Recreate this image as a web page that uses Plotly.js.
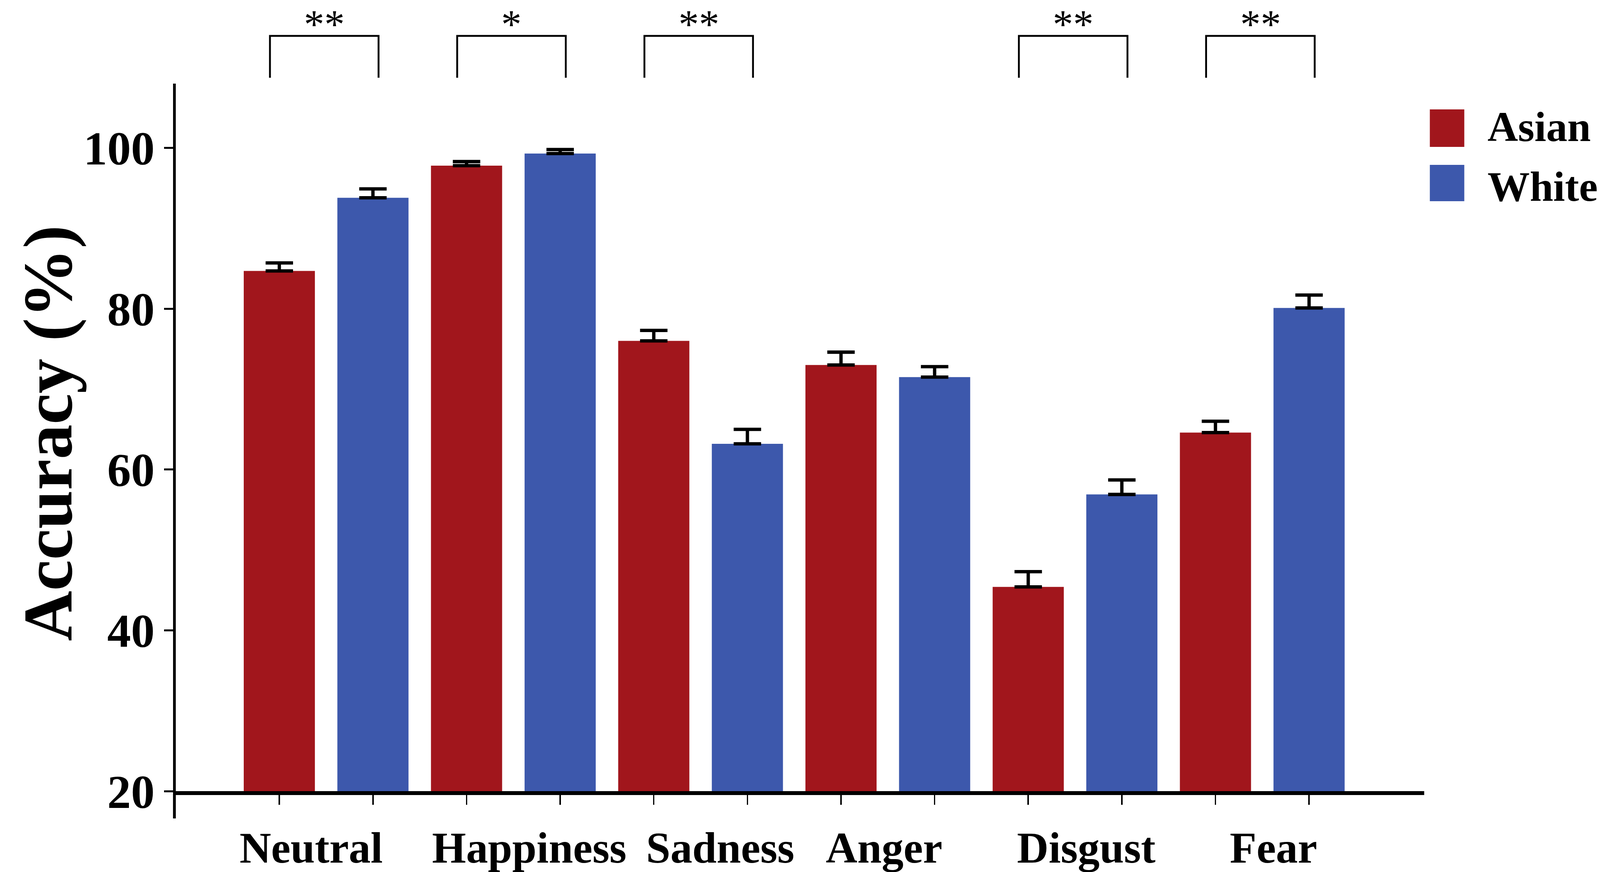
<!DOCTYPE html>
<html>
<head>
<meta charset="utf-8">
<script src="https://cdn.plot.ly/plotly-3.0.1.min.js"></script>
<style>
  html, body { margin: 0; padding: 0; background: #fff; overflow: hidden; }
</style>
</head>
<body>
<div id="chart"></div>
<script>
// data
var emotions = ["Neutral", "Happiness", "Sadness", "Anger", "Disgust", "Fear"];
var groups = ["Asian", "White"];
var asianAcc = [84.7, 97.8, 76.0, 73.0, 45.4, 64.6];
var asianErr = [1.0, 0.5, 1.3, 1.6, 1.9, 1.4];
var whiteAcc = [93.8, 99.3, 63.2, 71.5, 56.9, 80.1];
var whiteErr = [1.1, 0.5, 1.8, 1.3, 1.8, 1.6];
var significance = ["**", "*", "**", "", "**", "**"];
var yTicks = [20, 40, 60, 80, 100];

var colours = ["#A1161C", "#3D58AC"];
var serif = "Liberation Serif, Times New Roman, serif";
// the category names in the figure are not quite centred under their pairs
var labelNudge = [-0.08, 0.085, 0.105, -0.02, 0.06, 0.06];

// the design is laid out for 4550 x 2232; stretch it onto the real window
var Sx = window.innerWidth / 4550;
var Sy = window.innerHeight / 2232;
var Sf = Math.sqrt(Sx * Sy);
function px(v) { return v * Sx; }
function py(v) { return v * Sy; }
function pf(v) { return v * Sf; }

var idx = emotions.map(function (e, i) { return i; });
// tick marks sit under every bar centre
var barCentres = [];
for (var i = 0; i < idx.length; i++) {
	barCentres.push(idx[i] - 0.25, idx[i] + 0.25);
}
var labelPos = idx.map(function (v, i) { return v + labelNudge[i]; });
var xRange = [-0.803, 5.865];

function makeBar(name, vals, errs, colour) {
	return {
		type: "bar",
		name: name,
		x: idx,
		y: vals,
		xaxis: "x",
		yaxis: "y",
		marker: { color: colour, line: { width: 0 } },
		error_y: {
			type: "data",
			symmetric: false,
			array: errs,
			arrayminus: errs.map(function () { return 0; }),
			color: "#000",
			thickness: pf(9),
			width: px(39)
		},
		showlegend: false,
		hoverinfo: "y"
	};
}

var data = [
	makeBar(groups[0], asianAcc, asianErr, colours[0]),
	makeBar(groups[1], whiteAcc, whiteErr, colours[1])
];

var shapes = [];
var annotations = [];

// significance brackets and stars
for (var k = 0; k < significance.length; k++) {
	if (!significance[k]) continue;
	var x0 = idx[k] - 0.3, x1 = idx[k] + 0.28;
	shapes.push({
		type: "path",
		xref: "x", yref: "paper",
		path: "M " + x0 + ",1.0083 L " + x0 + ",1.0674 L " + x1 + ",1.0674 L " + x1 + ",1.0083",
		line: { color: "#000", width: pf(5) }
	});
	annotations.push({
		xref: "x", yref: "paper",
		x: (x0 + x1) / 2, y: 1.1165,
		xanchor: "center", yanchor: "top",
		text: significance[k],
		showarrow: false,
		borderpad: 0,
		font: { family: serif, size: pf(110), color: "#000" }
	});
}

// y axis title, placed by hand
annotations.push({
	xref: "paper", yref: "paper",
	x: -0.1025, y: 0.506,
	xanchor: "center", yanchor: "middle",
	textangle: -90,
	borderpad: 0,
	text: "Accuracy (%)",
	showarrow: false,
	font: { family: serif, size: pf(188), weight: "bold", color: "#000" }
});

// y axis carries on a little below the x axis
shapes.push({
	type: "line", xref: "paper", yref: "paper",
	x0: -0.0011, x1: -0.0011, y0: 0, y1: -0.0386,
	line: { color: "#000", width: px(8) }
});

// legend drawn by hand so the swatches can be large
var legendY = [[0.9106, 0.9636, 0.939], [0.8338, 0.8851, 0.8545]];
for (var g = 0; g < groups.length; g++) {
	shapes.push({
		type: "rect", xref: "paper", yref: "paper",
		x0: 1.0045, x1: 1.0321, y0: legendY[g][0], y1: legendY[g][1],
		fillcolor: colours[g], line: { width: 0 }
	});
	annotations.push({
		xref: "paper", yref: "paper",
		x: 1.0501, y: legendY[g][2],
		xanchor: "left", yanchor: "middle",
		text: groups[g],
		showarrow: false,
		font: { family: serif, size: pf(114), weight: "bold", color: "#000" }
	});
}

var layout = {
	width: px(4550),
	height: py(2232),
	margin: { l: px(500), r: px(500), t: py(214), b: py(207), pad: 0 },
	paper_bgcolor: "#fff",
	plot_bgcolor: "#fff",
	barmode: "group",
	bargap: 0,
	bargroupgap: 0.24,
	xaxis: {
		range: xRange,
		tickmode: "array",
		tickvals: barCentres,
		showticklabels: false,
		ticks: "outside",
		ticklen: py(25),
		tickwidth: px(4),
		tickcolor: "#000",
		showline: true,
		linewidth: py(10),
		linecolor: "#000",
		showgrid: false,
		zeroline: false,
		fixedrange: true
	},
	xaxis2: {
		overlaying: "x",
		anchor: "y",
		side: "bottom",
		range: xRange,
		tickmode: "array",
		tickvals: labelPos,
		ticktext: emotions,
		ticks: "",
		ticklabelstandoff: py(70),
		showline: false,
		showgrid: false,
		zeroline: false,
		tickfont: { family: serif, size: pf(118), weight: "bold", color: "#000" }
	},
	yaxis: {
		range: [20, 108],
		tickmode: "array",
		tickvals: yTicks,
		ticks: "outside",
		ticklen: px(25),
		tickwidth: py(5),
		tickcolor: "#000",
		ticklabelstandoff: px(40),
		showline: true,
		linewidth: px(8),
		linecolor: "#000",
		showgrid: false,
		zeroline: false,
		automargin: false,
		tickfont: { family: serif, size: pf(128), weight: "bold", color: "#000" }
	},
	shapes: shapes,
	annotations: annotations,
	showlegend: false
};

// xaxis2 needs a trace to show its labels
data.push({
	type: "scatter", x: [idx[0]], y: [yTicks[0]], xaxis: "x2", yaxis: "y",
	mode: "markers", marker: { opacity: 0 }, hoverinfo: "skip", showlegend: false
});

Plotly.newPlot("chart", data, layout, { displayModeBar: false, staticPlot: true });
</script>
</body>
</html>
